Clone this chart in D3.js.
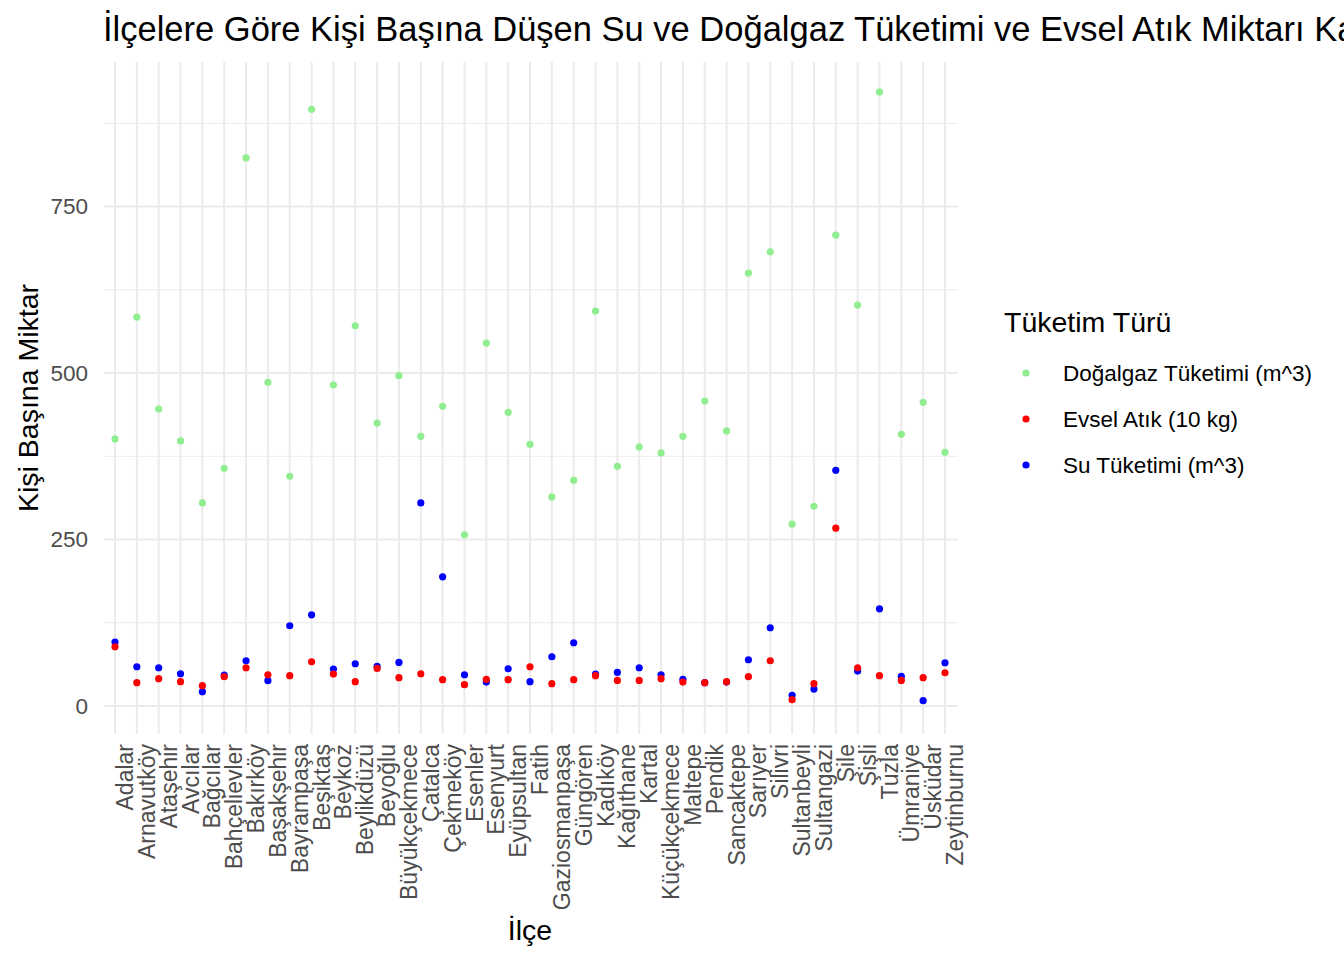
<!DOCTYPE html>
<html><head><meta charset="utf-8">
<script src="https://cdn.jsdelivr.net/npm/d3@7"></script>
<style>body{margin:0;background:#fff}text{font-family:"Liberation Sans",Arial,sans-serif}</style>
</head><body>
<script>
const districts=["Adalar","Arnavutköy","Ataşehir","Avcılar","Bağcılar","Bahçelievler","Bakırköy","Başakşehir","Bayrampaşa","Beşiktaş","Beykoz","Beylikdüzü","Beyoğlu","Büyükçekmece","Çatalca","Çekmeköy","Esenler","Esenyurt","Eyüpsultan","Fatih","Gaziosmanpaşa","Güngören","Kadıköy","Kağıthane","Kartal","Küçükçekmece","Maltepe","Pendik","Sancaktepe","Sarıyer","Silivri","Sultanbeyli","Sultangazi","Şile","Şişli","Tuzla","Ümraniye","Üsküdar","Zeytinburnu"];
const gas=[401,584,446,398,305,357,823,486,345,896,482,571,425,496,405,450,257,545,441,393,314,339,593,360,389,380,405,458,413,650,682,273,300,707,602,922,408,456,381];
const waste=[89,35,41,36.5,30.5,44,57.5,47,45.5,66.5,48,36.5,56.5,42.5,48.5,39.5,32,40,39.5,59,33.5,39.5,45.5,38.5,38.5,41,36,35,36.5,44,68,9.5,33.5,267,57.5,45.5,38.5,42.5,50];
const water=[96,59,57.5,48.5,21.5,46.5,68,38,120.5,137,55.5,63.5,59.5,65.5,305,194,47,36,56,36.5,74,95,48,50.5,57.5,47,40,35,36,69.5,117.5,16,25.5,354,52.5,146,44.5,8,65];
const yTicks=[0,250,500,750];
const yMinor=[125,375,625,875];
const series=[{name:"Doğalgaz Tüketimi (m^3)",color:"#90EE90",vals:gas},{name:"Evsel Atık (10 kg)",color:"#FF0000",vals:waste},{name:"Su Tüketimi (m^3)",color:"#0000FF",vals:water}];

const W=1344,H=960;
const svg=d3.select("body").append("svg").attr("width",W).attr("height",H);
const x=d3.scalePoint().domain(districts).range([115,945]);
const y=d3.scaleLinear().domain([-42,967]).range([734,62]);
const L=104,R=958,T=62,B=734;
const g=svg.append("g");
yMinor.forEach(v=>g.append("line").attr("x1",L).attr("x2",R).attr("y1",y(v)).attr("y2",y(v)).attr("stroke","#ebebeb").attr("stroke-width",1));
yTicks.forEach(v=>g.append("line").attr("x1",L).attr("x2",R).attr("y1",y(v)).attr("y2",y(v)).attr("stroke","#ebebeb").attr("stroke-width",2));
districts.forEach(d=>g.append("line").attr("x1",x(d)).attr("x2",x(d)).attr("y1",T).attr("y2",B).attr("stroke","#ebebeb").attr("stroke-width",2));
[series[0],series[2],series[1]].forEach(s=>{
  g.selectAll(null).data(s.vals).enter().append("circle")
   .attr("cx",(v,i)=>x(districts[i])).attr("cy",v=>y(v)).attr("r",3.6).attr("fill",s.color);
});
yTicks.forEach(v=>svg.append("text").attr("x",88).attr("y",y(v)).attr("dy","0.35em").attr("text-anchor","end").attr("font-size",22.5).attr("fill","#4d4d4d").text(v));
districts.forEach(d=>svg.append("text").attr("transform",`translate(${x(d)+10},744) rotate(-90)`).attr("text-anchor","end").attr("dy","0.35em").attr("font-size",23).attr("fill","#4d4d4d").text(d));
svg.append("text").attr("x",103).attr("y",41).attr("font-size",34.5).attr("fill","#000").text("İlçelere Göre Kişi Başına Düşen Su ve Doğalgaz Tüketimi ve Evsel Atık Miktarı Karşılaştırması");
svg.append("text").attr("x",530).attr("y",940).attr("text-anchor","middle").attr("font-size",28.5).text("İlçe");
svg.append("text").attr("transform","translate(38,398) rotate(-90)").attr("text-anchor","middle").attr("font-size",28.5).text("Kişi Başına Miktar");
svg.append("text").attr("x",1004).attr("y",332).attr("font-size",28.5).text("Tüketim Türü");
series.forEach((s,i)=>{
  const yy=373+i*46;
  svg.append("circle").attr("cx",1026).attr("cy",yy).attr("r",3.6).attr("fill",s.color);
  svg.append("text").attr("x",1063).attr("y",yy).attr("dy","0.35em").attr("font-size",22.5).text(s.name);
});
</script>
</body></html>
